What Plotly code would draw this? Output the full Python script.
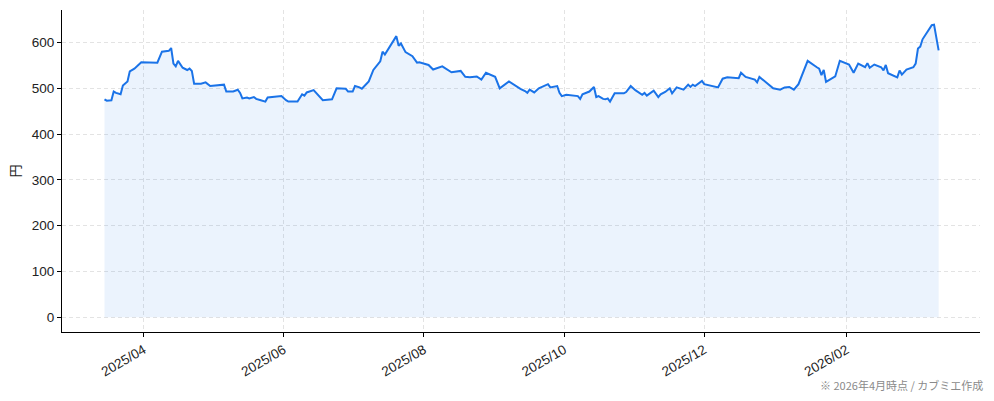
import plotly.graph_objects as go

dates = [
    "2025-03-15", "2025-03-16", "2025-03-18", "2025-03-19", "2025-03-20", "2025-03-22",
    "2025-03-23", "2025-03-25", "2025-03-26", "2025-03-28", "2025-03-31", "2025-04-07",
    "2025-04-09", "2025-04-12", "2025-04-13", "2025-04-14", "2025-04-15", "2025-04-16",
    "2025-04-18", "2025-04-20", "2025-04-21", "2025-04-22", "2025-04-23", "2025-04-26",
    "2025-04-28", "2025-04-30", "2025-05-06", "2025-05-07", "2025-05-10", "2025-05-12",
    "2025-05-13", "2025-05-14", "2025-05-16", "2025-05-17", "2025-05-19", "2025-05-20",
    "2025-05-22", "2025-05-24", "2025-05-25", "2025-05-31", "2025-06-02", "2025-06-03",
    "2025-06-07", "2025-06-08", "2025-06-09", "2025-06-10", "2025-06-11", "2025-06-14",
    "2025-06-16", "2025-06-18", "2025-06-22", "2025-06-24", "2025-06-28", "2025-06-29",
    "2025-07-01", "2025-07-02", "2025-07-04", "2025-07-05", "2025-07-08", "2025-07-10",
    "2025-07-13", "2025-07-14", "2025-07-15", "2025-07-20", "2025-07-21", "2025-07-22",
    "2025-07-24", "2025-07-27", "2025-07-29", "2025-07-30", "2025-08-03", "2025-08-05",
    "2025-08-09", "2025-08-13", "2025-08-17", "2025-08-19", "2025-08-21", "2025-08-24",
    "2025-08-26", "2025-08-28", "2025-09-01", "2025-09-03", "2025-09-07", "2025-09-09",
    "2025-09-10", "2025-09-12", "2025-09-14", "2025-09-15", "2025-09-16", "2025-09-18",
    "2025-09-20", "2025-09-22", "2025-09-24", "2025-09-25", "2025-09-28", "2025-09-29",
    "2025-09-30", "2025-10-02", "2025-10-07", "2025-10-08", "2025-10-09", "2025-10-12",
    "2025-10-14", "2025-10-15", "2025-10-16", "2025-10-18", "2025-10-19", "2025-10-20",
    "2025-10-21", "2025-10-23", "2025-10-27", "2025-10-28", "2025-10-30", "2025-11-01",
    "2025-11-04", "2025-11-05", "2025-11-06", "2025-11-09", "2025-11-11", "2025-11-12",
    "2025-11-14", "2025-11-16", "2025-11-17", "2025-11-19", "2025-11-22", "2025-11-24",
    "2025-11-25", "2025-11-26", "2025-11-27", "2025-11-30", "2025-12-01", "2025-12-07",
    "2025-12-09", "2025-12-11", "2025-12-16", "2025-12-17", "2025-12-19", "2025-12-23",
    "2025-12-24", "2025-12-25", "2025-12-31", "2026-01-03", "2026-01-05", "2026-01-07",
    "2026-01-09", "2026-01-11", "2026-01-14", "2026-01-15", "2026-01-19", "2026-01-20",
    "2026-01-21", "2026-01-22", "2026-01-23", "2026-01-27", "2026-01-29", "2026-02-02",
    "2026-02-04", "2026-02-06", "2026-02-09", "2026-02-10", "2026-02-11", "2026-02-13",
    "2026-02-16", "2026-02-17", "2026-02-18", "2026-02-19", "2026-02-23", "2026-02-24",
    "2026-02-25", "2026-02-27", "2026-03-02", "2026-03-03", "2026-03-04", "2026-03-05",
    "2026-03-06", "2026-03-09", "2026-03-10", "2026-03-11", "2026-03-13",
]

prices = [
    476, 473, 474, 493, 490, 487,
    506, 515, 537, 543, 557, 556,
    580, 582, 588, 554, 548, 560,
    545, 540, 543, 538, 510, 510,
    513, 505, 508, 493, 493, 497,
    490, 478, 480, 478, 481, 477,
    474, 471, 480, 483, 474, 471,
    471, 478, 487, 484, 491, 496,
    486, 474, 476, 500, 499, 493,
    493, 505, 502, 499, 515, 540,
    559, 580, 574, 614, 593, 598,
    579, 570, 556, 557, 551, 541,
    548, 535, 538, 525, 524, 526,
    519, 534, 525, 500, 515, 508,
    506, 499, 494, 490, 497, 491,
    500, 505, 509, 502, 505, 490,
    483, 486, 483, 477, 487, 493,
    503, 481, 483, 477, 476, 478,
    471, 489, 489, 492, 505, 496,
    486, 490, 484, 495, 481, 487,
    492, 500, 489, 502, 497, 508,
    503, 508, 505, 516, 509, 502,
    521, 524, 522, 534, 525, 519,
    513, 525, 500, 497, 502, 503,
    497, 509, 547, 560, 546, 543,
    529, 540, 514, 526, 560, 552,
    534, 554, 546, 555, 545, 552,
    546, 539, 551, 533, 524, 539,
    530, 541, 546, 554, 587, 591,
    607, 632, 638, 639, 583,
]

tick_vals = ["2025-04-01", "2025-06-01", "2025-08-01", "2025-10-01", "2025-12-01", "2026-02-01"]
tick_text = ["2025/04", "2025/06", "2025/08", "2025/10", "2025/12", "2026/02"]
y_ticks = [0, 100, 200, 300, 400, 500, 600]

LINE = "#1a73e8"
FONT = "Liberation Sans, Noto Sans CJK JP, sans-serif"
CJK = "Noto Sans CJK JP"

fig = go.Figure()
fig.add_trace(go.Scatter(
    x=dates, y=prices, mode="lines",
    line=dict(color=LINE, width=2),
    fill="tozeroy", fillcolor="rgba(26,115,232,0.085)",
    hoverinfo="skip", showlegend=False,
))

fig.update_layout(
    width=994, height=401,
    margin=dict(l=62, r=14, t=10, b=69, autoexpand=False),
    paper_bgcolor="white", plot_bgcolor="white",
    font=dict(family=FONT, size=13.5, color="#222"),
    showlegend=False,
    annotations=[dict(
        text="※ 2026年4月時点 / カブミエ作成",
        xref="paper", yref="paper", x=1.0054, y=-0.165,
        xanchor="right", yanchor="middle", showarrow=False,
        font=dict(family=CJK, size=11, color="#8a8a8a"),
    )],
)

fig.update_xaxes(
    type="date", automargin=False,
    range=["2025-02-24 12:00", "2026-03-31"],
    tickmode="array", tickvals=tick_vals, ticktext=tick_text,
    tickangle=-30, ticks="outside", ticklen=4, tickcolor="#000",
    showline=True, linecolor="#000", linewidth=1,
    showgrid=True, gridcolor="#e3e3e3", griddash="4px,3px", gridwidth=1,
    zeroline=False, tickfont=dict(size=13.5, color="#222"),
)
fig.update_yaxes(
    automargin=False,
    range=[-32, 671],
    tickmode="array", tickvals=y_ticks,
    ticks="outside", ticklen=4, tickcolor="#000",
    showline=True, linecolor="#000", linewidth=1,
    showgrid=True, gridcolor="#e3e3e3", griddash="4px,3px", gridwidth=1,
    zeroline=False, tickfont=dict(size=13.5, color="#222"),
    title=dict(text="円", font=dict(family=CJK, size=13, color="#222"), standoff=8),
)

fig.write_html("out.html", config={"displayModeBar": False},
               post_script="document.body.style.margin='0';")
